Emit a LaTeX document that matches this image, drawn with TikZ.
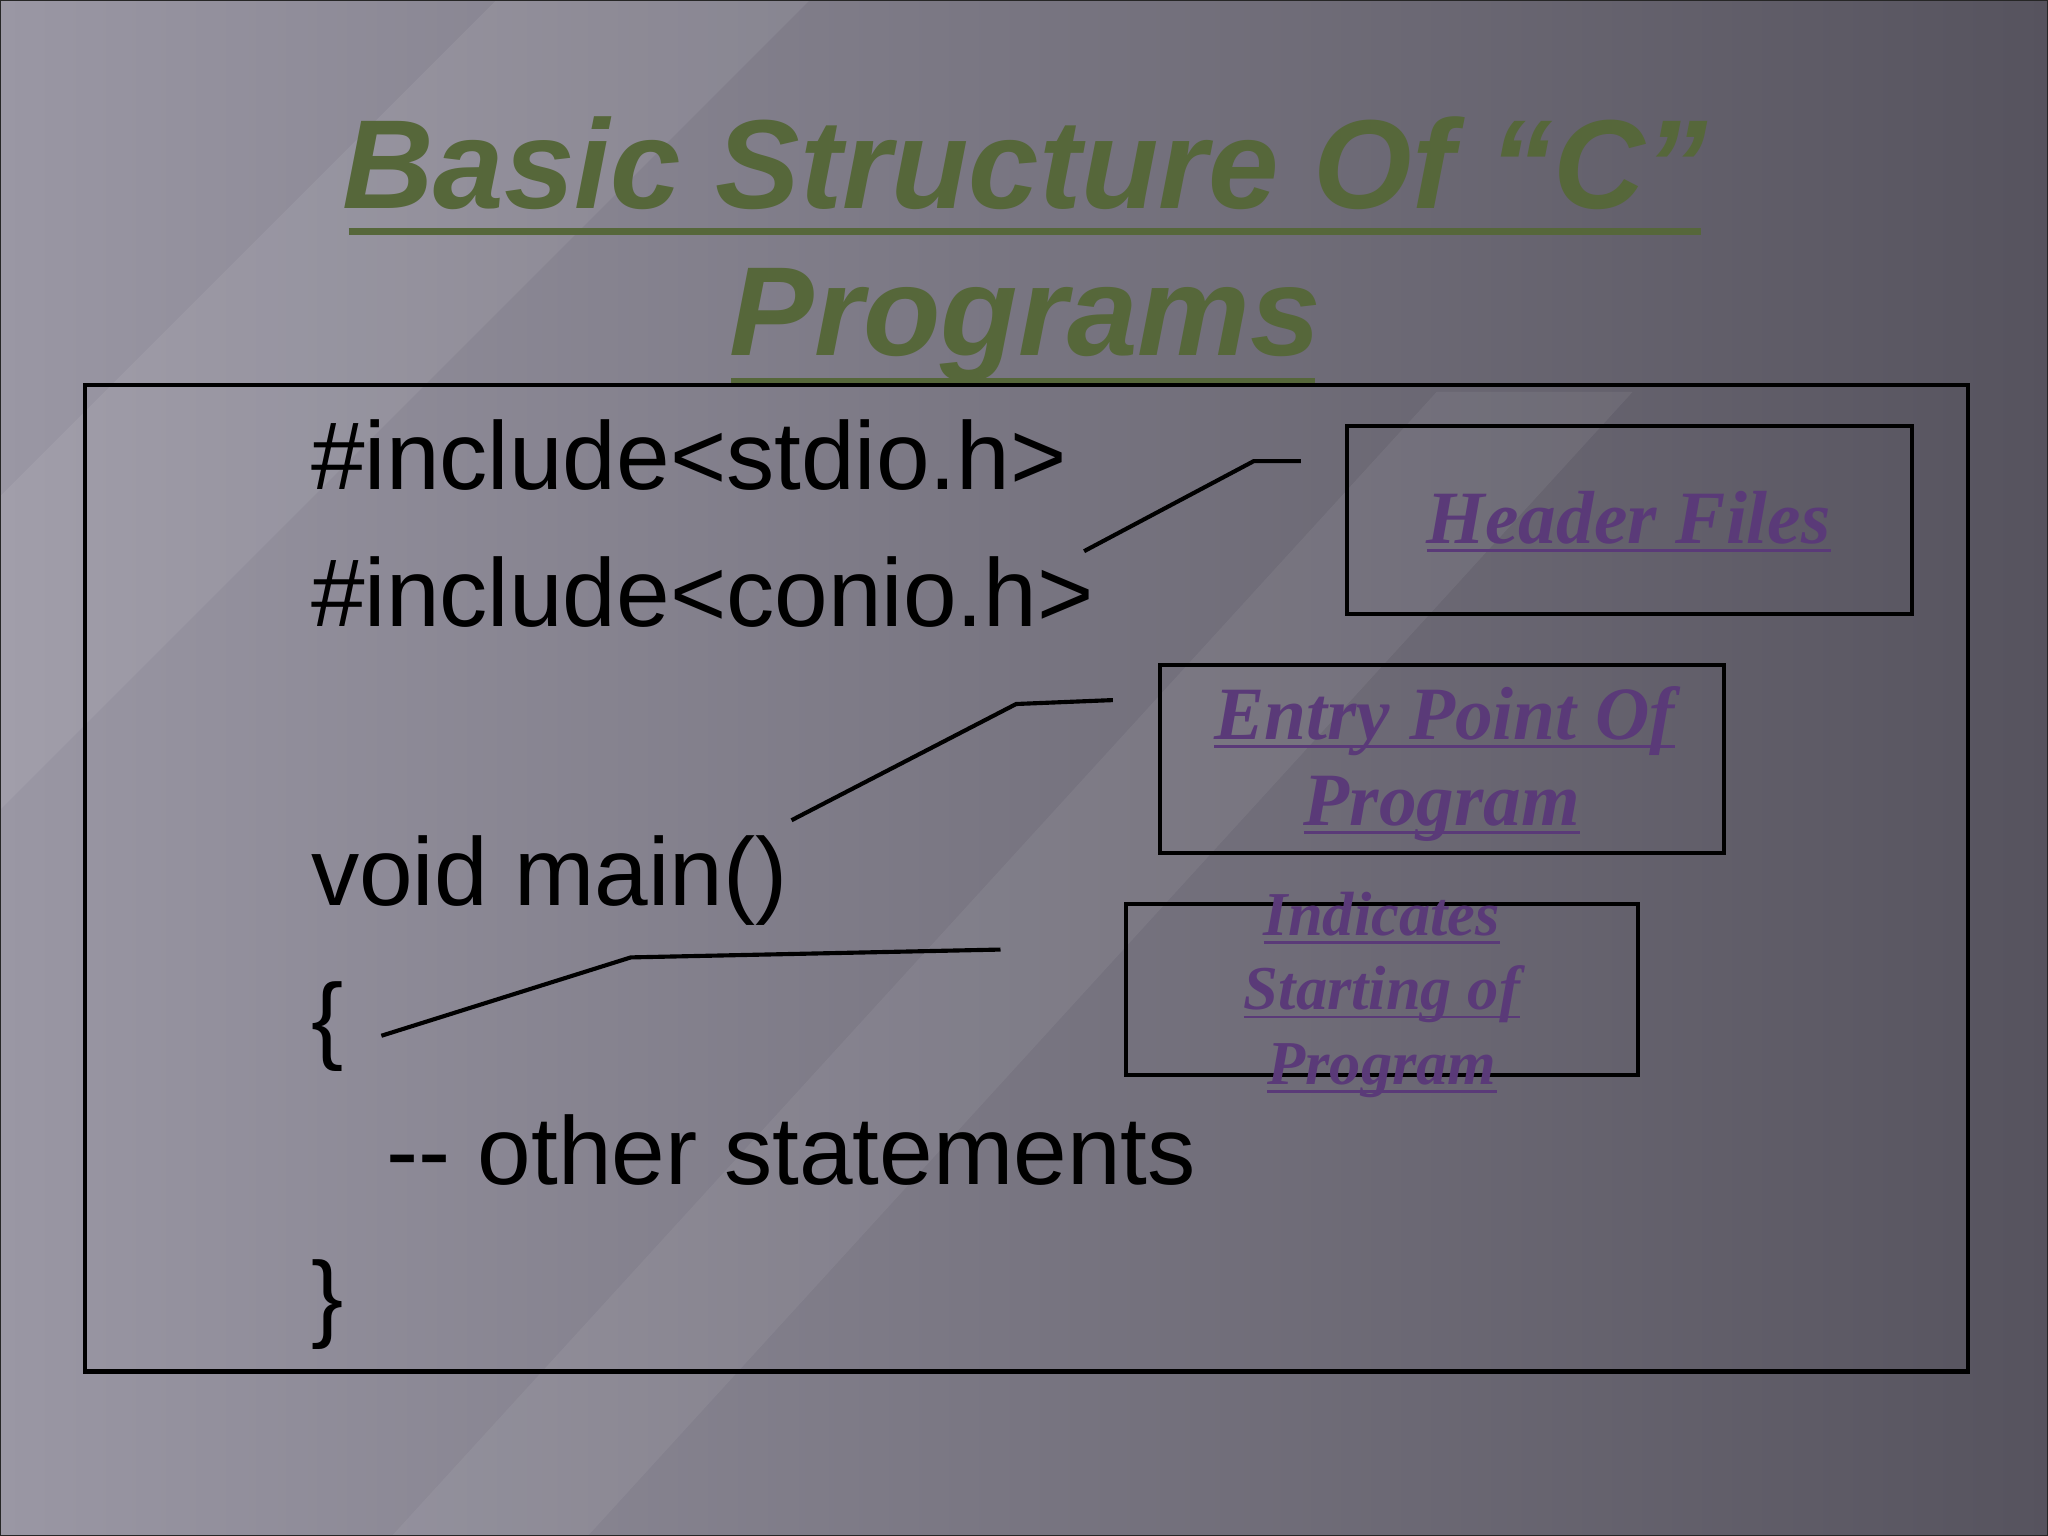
\documentclass[tikz,border=0pt]{standalone}
\usepackage{fontspec}
\setmainfont{Liberation Sans}
\newfontfamily\serifit{Liberation Serif}
\definecolor{titlegreen}{HTML}{56673A}
\definecolor{labpurple}{HTML}{5A3A78}
\definecolor{bgl}{HTML}{9A97A4}
\definecolor{bgd}{HTML}{56535E}
\begin{document}
\begin{tikzpicture}[x=0.05cm,y=-0.05cm,
  code/.style={anchor=base west,inner sep=0,font=\fontsize{105}{115}\selectfont},
  ttl/.style={anchor=base,inner sep=0,text=titlegreen,font=\fontsize{138}{150}\selectfont\bfseries\itshape},
  lab/.style={anchor=base,inner sep=0,text=labpurple,font=\serifit\fontsize{82}{90}\selectfont\bfseries\itshape},
  labs/.style={lab,font=\serifit\fontsize{68}{75}\selectfont\bfseries\itshape},
  bx/.style={draw=black,line width=4.5pt},
  ln/.style={draw=black,line width=4.5pt}]
\useasboundingbox (0,0) rectangle (1568,1176);
\shade[left color=bgl,right color=bgd] (0,0) rectangle (1568,1176);
\fill[white,opacity=0.07] (0,380) -- (380,0) -- (620,0) -- (0,620) -- cycle;
\fill[white,opacity=0.06] (300,1176) -- (1100,300) -- (1250,300) -- (450,1176) -- cycle;
\draw[gray!30!black,line width=3pt] (0,0) rectangle (1568,1176);
% title
\node[ttl] (t1) at (785,160) {Basic Structure Of “C”};
\node[ttl] (t2) at (785,272) {Programs};
\draw[titlegreen,line width=8pt] (267,177) -- (1302,177);
\draw[titlegreen,line width=8pt] (560,292) -- (1007,292);
% main box
\draw[bx] (65,295) rectangle (1507,1050);
\node[code] (c1) at (238,375) {\#include<stdio.h>};
\node[code] (c2) at (238,480) {\#include<conio.h>};
\node[code] (c3) at (238,693) {void main()};
\node[code] (c4) at (238,805) {\{};
\node[code] (c5) at (296,907) {-{}- other statements};
\node[code] (c6) at (238,1018) {\}};
% label boxes
\node[bx,minimum width=433*0.05cm,minimum height=144*0.05cm] (b1) at (1247.5,398) {};
\node[bx,minimum width=432*0.05cm,minimum height=144*0.05cm] (b2) at (1104,581) {};
\node[bx,minimum width=392*0.05cm,minimum height=131*0.05cm] (b3) at (1058,757.5) {};
\node[lab] (l1) at (1247,416) {Header Files};
\node[lab] (l2) at (1106,566) {Entry Point Of};
\node[lab] (l3) at (1104,632) {Program};
\node[labs] (l4) at (1058,716) {Indicates};
\node[labs] (l5) at (1058,773) {Starting of};
\node[labs] (l6) at (1058,830) {Program};
\foreach \n in {l1,l2,l3,l4,l5,l6}
  \draw[labpurple,line width=3pt] ([yshift=-8pt]\n.base west) -- ([yshift=-8pt]\n.base east);
% connectors
\coordinate (e1) at (830,422); \coordinate (m1) at (960,353); \coordinate (f1) at (996,353);
\coordinate (e2) at (606,628); \coordinate (m2) at (778,539); \coordinate (f2) at (852,536);
\coordinate (e3) at (292,793); \coordinate (m3) at (483,733); \coordinate (f3) at (766,727);
\draw[ln] (e1) -- (m1) -- (f1);
\draw[ln] (e2) -- (m2) -- (f2);
\draw[ln] (e3) -- (m3) -- (f3);
\end{tikzpicture}
\end{document}
